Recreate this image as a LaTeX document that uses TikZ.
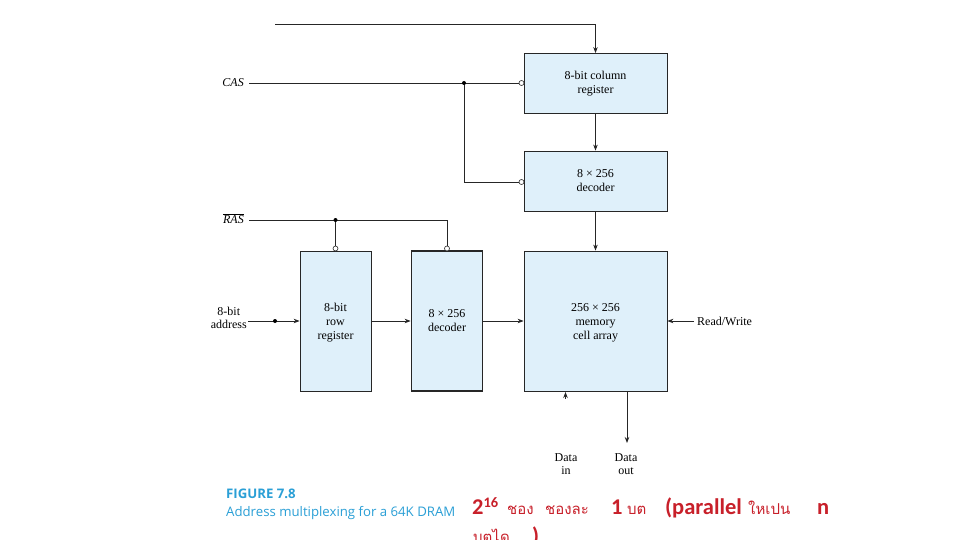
\documentclass[tikz,border=0pt]{standalone}
\usepackage{fontspec}
\setmainfont{Liberation Serif}
\newfontfamily\capfont{Open Sans}
\newfontfamily\redfont{Carlito}
\newfontfamily\thaifont[Script=Thai]{Loma}
\usetikzlibrary{arrows.meta}
\definecolor{boxfill}{HTML}{DFF0FA}
\definecolor{capblue}{HTML}{2A9FD6}
\definecolor{redtext}{HTML}{C8202A}
\begin{document}
\begin{tikzpicture}[x=1pt,y=-1pt,
 blk/.style={draw=black!85, line width=0.8pt, fill=boxfill, align=center, inner sep=0pt, font=\fontsize{12}{14}\selectfont},
 bub/.style={circle, draw=black!85, fill=white, line width=0.6pt, inner sep=0pt, minimum size=5pt},
 wire/.style={line width=0.8pt, draw=black!85},
 arr/.style={wire, -{Stealth[length=6pt,width=4.5pt]}},
 jdot/.style={circle, fill=black, inner sep=0pt, minimum size=4pt},
 lbl/.style={font=\fontsize{12}{13}\selectfont, align=center, inner sep=0pt},
 redtxt/.style={anchor=base west, inner sep=0pt, text=redtext},
 latin/.style={redtxt, font=\redfont\fontsize{22.5}{26}\selectfont\bfseries},
 thai/.style={redtxt, font=\thaifont\fontsize{15}{18}\selectfont},
 captxt/.style={anchor=base west, inner sep=0pt, text=capblue}]
\path[fill=white] (0,0) rectangle (960,540);
\useasboundingbox (0,0) rectangle (960,540);

% blocks
\node[blk, minimum width=143pt, minimum height=60pt] (colreg) at (595.5,83.5) {8-bit column\\register};
\node[blk, minimum width=143pt, minimum height=60pt, text depth=-1pt] (coldec) at (595.5,181) {8 × 256\\decoder};
\node[blk, minimum width=143pt, minimum height=140pt] (mem) at (595.5,321) {\rule{0pt}{12pt}256 × 256\\memory\\cell array};
\node[blk, minimum width=71pt, minimum height=140pt] (rowreg) at (335.5,321) {\rule{0pt}{12pt}8-bit\\row\\register};
\node[blk, line width=1.8pt, minimum width=71pt, minimum height=140pt] (rowdec) at (447,321) {8 × 256\\decoder};

% bubbles
\node[bub] (bcas) at (521.5,83) {};
\node[bub] (bcd) at (521.5,182) {};
\node[bub] (brr) at (335.5,248.5) {};
\node[bub] (brd) at (447,248.5) {};

% labels
\node[lbl, font=\fontsize{12}{13}\selectfont\itshape, anchor=east] (cas) at (244,83) {CAS};
\node[lbl, anchor=east] (ras) at (244,219) {$\overline{\mbox{\itshape RAS}}$};
\node[lbl, anchor=east] (addr) at (247,318) {8-bit\\address};
\node[lbl, anchor=west] (rw) at (697,321) {Read/Write};
\node[lbl] (din) at (566,464) {Data\\in};
\node[lbl] (dout) at (626,464) {Data\\out};

% coordinates
\coordinate (top) at (275,24);
\coordinate (j1) at (464,83);
\coordinate (j2) at (335.5,220);
\coordinate (rasend) at (447,220);
\coordinate (adot) at (275,321);
\coordinate (dit) at (565.5,392);
\coordinate (dib) at (565.5,398.5);
\coordinate (doend) at (627,443);

% wires
\draw[arr] (top) -| (colreg.north);
\draw[wire, shorten <=5pt] (cas.east) -- (bcas.west);
\draw[wire] (j1) |- (bcd.west);
\node[jdot] (dj1) at (j1) {};
\draw[arr] (colreg.south) -- (coldec.north);
\draw[arr] (coldec.south) -- (mem.north);
\draw[wire, shorten <=5pt] (ras.east |- rasend) -- (rasend) -- (brd.north);
\draw[wire] (j2) -- (brr.north);
\node[jdot] (dj2) at (j2) {};
\draw[arr, shorten <=1pt] (addr.east |- rowreg.west) -- (rowreg.west);
\node[jdot] (dadr) at (adot) {};
\draw[arr] (rowreg.east) -- (rowdec.west);
\draw[arr] (rowdec.east) -- (mem.west);
\draw[arr, shorten <=3pt] (rw.west) -- (mem.east);
\draw[arr] (mem.south -| doend) -- (doend);
\draw[arr] (dib) -- (dit);

% caption
\node[captxt, font=\capfont\fontsize{13.2}{15}\selectfont\bfseries] (figno) at (226,498) {FIGURE 7.8};
\node[captxt, font=\capfont\fontsize{13.2}{15}\selectfont] (figcap) at (226,516) {Address multiplexing for a 64K DRAM};

% red note
\node[latin] (two) at (472,514) {2\raisebox{7pt}{\fontsize{14.5}{17}\selectfont 16}};
\node[thai] (t1) at (507,514) {ชอง};
\node[thai] (t2) at (545,514) {ชองละ};
\node[latin] (one) at (611,514) {1};
\node[thai] (t3) at (627,514) {บต};
\node[latin] (par) at (665,514) {(parallel};
\node[thai] (t4) at (748,514) {ใหเปน};
\node[latin] (nn) at (817,514) {n};
\node[thai] (t5) at (473,542) {บตได};
\node[latin] (cp) at (532,543) {)};
\end{tikzpicture}
\end{document}
